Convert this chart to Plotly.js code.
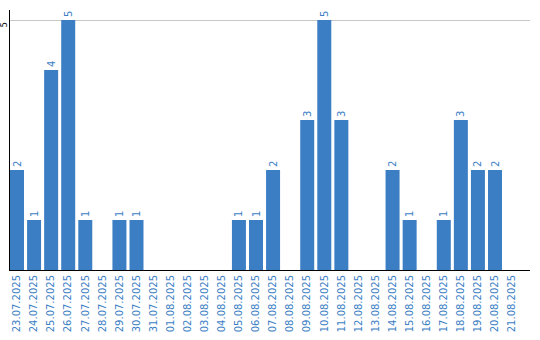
<!DOCTYPE html>
<html><head><meta charset="utf-8">
<script src="https://cdn.plot.ly/plotly-3.0.1.min.js"></script>
<style>html,body{margin:0;padding:0;background:#fff}#c{width:540px;height:340px}</style>
</head><body><div id="c"></div>
<script>
const dates = ["23.07.2025","24.07.2025","25.07.2025","26.07.2025","27.07.2025","28.07.2025","29.07.2025","30.07.2025","31.07.2025","01.08.2025","02.08.2025","03.08.2025","04.08.2025","05.08.2025","06.08.2025","07.08.2025","08.08.2025","09.08.2025","10.08.2025","11.08.2025","12.08.2025","13.08.2025","14.08.2025","15.08.2025","16.08.2025","17.08.2025","18.08.2025","19.08.2025","20.08.2025","21.08.2025"];
const counts = [2,1,4,5,1,0,1,1,0,0,0,0,0,1,1,2,0,3,5,3,0,0,2,1,0,1,3,2,2,0];
const yTicks = [5];

const barColor = "#3b7ec4";
const trace = {
  type: "bar",
  x: dates,
  y: counts,
  text: counts.map(v => v ? String(v) : ""),
  textposition: "outside",
  textangle: -90,
  cliponaxis: false,
  textfont: {family: "DejaVu Sans", size: 10, color: barColor},
  marker: {color: barColor},
  hoverinfo: "none"
};
const layout = {
  width: 540, height: 340,
  margin: {l: 10, r: 10, t: 10, b: 70, pad: 0},
  paper_bgcolor: "#fff", plot_bgcolor: "#fff",
  showlegend: false,
  bargap: 0.18,
  font: {family: "DejaVu Sans", size: 10},
  xaxis: {
    type: "category",
    range: [-0.41, 30.05],
    tickangle: -90,
    tickfont: {family: "DejaVu Sans", size: 10, color: "#3b7ec4"},
    showline: true, linecolor: "#000", linewidth: 1,
    ticks: "", showgrid: false, automargin: false
  },
  yaxis: {
    range: [0, 5.2],
    tickvals: yTicks,
    ticktext: yTicks.map(String),
    tickangle: -90,
    ticklabelshift: 6,
    ticklabelstandoff: -1,
    tickfont: {family: "DejaVu Sans", size: 8, color: "#000"},
    showline: true, linecolor: "#000", linewidth: 1,
    showgrid: true, gridcolor: "#c8c8c8", gridwidth: 1,
    zeroline: false, ticks: "", automargin: false
  }
};
Plotly.newPlot("c", [trace], layout, {staticPlot: true, displayModeBar: false});
</script></body></html>
